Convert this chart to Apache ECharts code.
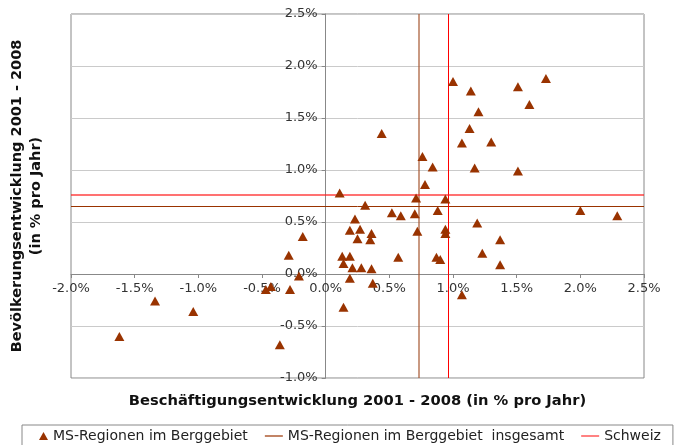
<!DOCTYPE html>
<html><head><meta charset="utf-8">
<script src="https://cdn.jsdelivr.net/npm/echarts@6/dist/echarts.min.js"></script>
<style>html,body{margin:0;padding:0;background:#fff}#c{width:677px;height:445px}</style>
</head><body><div id="c"></div>
<script>
// Beschäftigungsentwicklung (x, % p.a.)
const regionX = [-1.62,-1.34,-1.04,-0.47,-0.43,-0.28,-0.29,-0.18,-0.21,-0.36,
  0.11,0.31,0.52,0.59,0.70,0.71,0.78,0.23,0.19,0.27,0.36,0.25,0.35,0.72,0.13,0.19,0.57,
  0.14,0.21,0.28,0.36,0.19,0.37,0.14,0.44,0.76,0.84,0.94,1.00,1.14,1.20,1.13,1.07,1.30,
  1.17,1.51,1.51,1.60,1.73,0.88,0.94,0.94,1.19,1.37,1.23,1.37,0.87,0.90,1.07,2.00,2.29];
// Bevölkerungsentwicklung (y, % p.a.)
const regionY = [-0.60,-0.26,-0.36,-0.15,-0.12,-0.15,0.18,0.36,-0.02,-0.68,
  0.78,0.66,0.59,0.56,0.58,0.73,0.86,0.53,0.42,0.43,0.39,0.34,0.33,0.41,0.17,0.17,0.16,
  0.10,0.06,0.06,0.05,-0.04,-0.09,-0.32,1.35,1.13,1.03,0.72,1.85,1.76,1.56,1.40,1.26,1.27,
  1.02,0.99,1.80,1.63,1.88,0.61,0.43,0.39,0.49,0.33,0.20,0.09,0.16,0.14,-0.20,0.61,0.56];
const totalMS = [0.735, 0.654];   // [x, y] MS-Regionen im Berggebiet insgesamt
const schweiz = [0.963, 0.76];    // [x, y] Schweiz
const xTicks = [-2.0,-1.5,-1.0,-0.5,0.0,0.5,1.0,1.5,2.0,2.5];
const yTicks = [-1.0,-0.5,0.0,0.5,1.0,1.5,2.0,2.5];
const names = ['MS-Regionen im Berggebiet','MS-Regionen im Berggebiet  insgesamt','Schweiz'];
const xTitle = 'Beschäftigungsentwicklung 2001 - 2008 (in % pro Jahr)';
const yTitle = ['Bevölkerungsentwicklung 2001 - 2008','(in % pro Jahr)'];

const G = {left:71, right:33, top:14, bottom:67, W:677, H:445};
const gw = G.W - G.left - G.right, gh = G.H - G.top - G.bottom;
const xMin = xTicks[0], xMax = xTicks[xTicks.length-1];
const yMin = yTicks[0], yMax = yTicks[yTicks.length-1];
// axes cross at zero: shift axis lines from the grid edge to the zero position
const xAxisOffset = -((0 - yMin) / (yMax - yMin)) * gh;
const yAxisOffset = -((0 - xMin) / (xMax - xMin)) * gw;

const pts = regionX.map((x,i)=>[x, regionY[i]]);
const fmt = v => v.toFixed(1) + '%';
const chart = echarts.init(document.getElementById('c'), null, {renderer:'canvas'});
const labelStyle = {fontFamily:'DejaVu Sans', fontSize:13, color:'#333'};
const brown = '#993300', red = '#ff0000';
chart.setOption({
  animation:false,
  backgroundColor:'#fff',
  grid:{left:G.left, right:G.right, top:G.top, bottom:G.bottom, show:true, borderColor:'#888', borderWidth:1, backgroundColor:'transparent'},
  xAxis:{type:'value', min:xMin, max:xMax, interval:0.5, position:'bottom', offset:xAxisOffset,
    axisLine:{onZero:false, lineStyle:{color:'#888'}},
    axisTick:{show:true, length:4, lineStyle:{color:'#888'}},
    axisLabel:Object.assign({formatter:fmt, margin:8}, labelStyle),
    splitLine:{show:false}},
  yAxis:{type:'value', min:yMin, max:yMax, interval:0.5, position:'left', offset:yAxisOffset,
    axisLine:{onZero:false, lineStyle:{color:'#888'}},
    axisTick:{show:true, length:4, lineStyle:{color:'#888'}},
    axisLabel:Object.assign({formatter:fmt, margin:8}, labelStyle),
    splitLine:{show:true, lineStyle:{color:'#cacaca', width:1}}},
  legend:{left:22, top:425,
    padding:[4,12,16,8], borderColor:'#888', borderWidth:1, itemGap:17,
    itemWidth:18, itemHeight:10, backgroundColor:'#fff',
    textStyle:{fontFamily:'DejaVu Sans', fontSize:14, color:'#222'},
    data:[{name:names[0], icon:'path://M0,0L0,0M13.5,1L18,9L9,9Z M18,10L18,10', itemStyle:{color:brown, borderWidth:0}},
          {name:names[1], icon:'path://M0,4.4H18V5.6H0Z', itemStyle:{color:brown, borderColor:brown, borderWidth:0}, lineStyle:{color:brown}},
          {name:names[2], icon:'path://M0,4.4H18V5.6H0Z', itemStyle:{color:'#ff3030', borderColor:'#ff3030', borderWidth:0}, lineStyle:{color:'#ff3030'}}]},
  graphic:[
    {type:'text', x:G.left + gw/2, y:401, style:{text:xTitle, font:'bold 14.7px "DejaVu Sans"', fill:'#111', textAlign:'center', textVerticalAlign:'middle'}},
    {type:'text', x:27, y:G.top + gh/2, rotation:Math.PI/2, style:{text:yTitle.join('\n'), font:'bold 14.5px "DejaVu Sans"', fill:'#111', textAlign:'center', textVerticalAlign:'middle', lineHeight:19}}
  ],
  series:[
    {name:names[1], type:'line', data:[], color:brown, itemStyle:{color:brown}, lineStyle:{color:brown},
      markLine:{silent:true, symbol:'none', label:{show:false}, animation:false,
        lineStyle:{color:brown, type:'solid', width:1},
        data:[{xAxis:totalMS[0], lineStyle:{color:'#a5552f', width:1.5, opacity:0.8}},{yAxis:totalMS[1]}]}},
    {name:names[2], type:'line', data:[], color:red, itemStyle:{color:red}, lineStyle:{color:red},
      markLine:{silent:true, symbol:'none', label:{show:false}, animation:false,
        lineStyle:{color:red, type:'solid', width:1},
        data:[{xAxis:schweiz[0]},{yAxis:schweiz[1], lineStyle:{color:'#ff2020', width:1.5, opacity:0.85}}]}},
    {name:names[0], type:'scatter', data:pts, symbol:'triangle', symbolSize:[10,9],
      itemStyle:{color:brown, opacity:1}, z:5}
  ]
});
</script></body></html>
